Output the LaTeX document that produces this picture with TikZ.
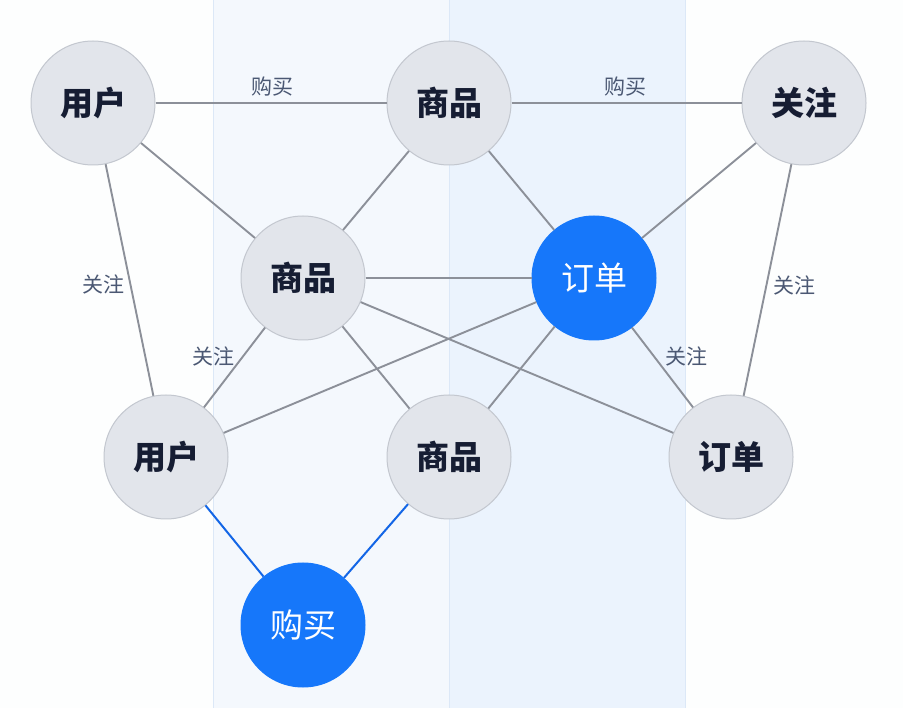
\documentclass[tikz,border=0pt]{standalone}
\usepackage{fontspec}
\setmainfont{Noto Sans CJK SC}
\usetikzlibrary{calc}
\definecolor{bandlight}{HTML}{F4F8FD}
\definecolor{banddeep}{HTML}{EBF3FD}
\definecolor{bandline}{HTML}{DCE8F7}
\definecolor{nodegray}{HTML}{E2E5EB}
\definecolor{nodeline}{HTML}{C3C7CF}
\definecolor{nodeblue}{HTML}{1677FA}
\definecolor{inkdark}{HTML}{161D33}
\definecolor{edgegray}{HTML}{8C9099}
\definecolor{labelgray}{HTML}{4B5873}
\definecolor{edgeblue}{HTML}{1366E6}
\tikzset{
    entity/.style={circle,minimum size=124pt,inner sep=0pt,fill=nodegray,
        draw=nodeline,line width=1pt,text=inkdark,
        font=\fontsize{33}{33}\selectfont\bfseries},
    hub/.style={entity,fill=nodeblue,draw=nodeblue,text=white,
        font=\fontsize{33}{33}\selectfont},
    link/.style={draw=edgegray,line width=1.9pt},
    bluelink/.style={draw=edgeblue,line width=2pt},
    rel/.style={text=labelgray,font=\fontsize{21}{21}\selectfont,inner sep=2pt}
}

\begin{document}
\begin{tikzpicture}[x=1pt,y=-1pt]
    \useasboundingbox (0,0) rectangle (903,708);
    \fill[white!80!bandlight] (0,0) rectangle (903,708);
    \fill[bandlight] (213,0) rectangle (449,708);
    \fill[banddeep] (449,0) rectangle (685,708);
    \foreach \x in {213,449,685} {
        \draw[bandline,line width=1pt] (\x,0) -- (\x,708);
      }

    % nodes
    \node[entity] (user1) at (93,103) {用户};
    \node[entity] (goods1) at (449,103) {商品};
    \node[entity] (follow1) at (804,103) {关注};
    \node[entity] (goods2) at (303,278) {商品};
    \node[hub] (order1) at (594,278) {订单};
    \node[entity] (user2) at (166,457) {用户};
    \node[entity] (goods3) at (449,457) {商品};
    \node[entity] (order2) at (731,457) {订单};
    \node[hub] (buy) at (303,625) {购买};

    % plain links
    \foreach \a/\b in {user1/goods2,goods1/goods2,goods1/order1,
        follow1/order1,goods2/order1,goods2/goods3,goods2/order2,
        order1/user2,order1/goods3} {
        \draw[link] (\a) -- (\b);
      }

    % labelled links
    \draw[link] (user1) -- (goods1);
    \draw[link] (goods1) -- (follow1);
    \draw[link] (user1) -- (user2);
    \draw[link] (follow1) -- (order2);
    \draw[link] (goods2) -- (user2);
    \draw[link] (order1) -- (order2);
    \node[rel] (lbuy1) at (272,87) {购买};
    \node[rel] (lbuy2) at (625,87) {购买};
    \node[rel] (lfollow1) at (103,284) {关注};
    \node[rel] (lfollow2) at (794,285) {关注};
    \node[rel] (lfollow3) at (213,356) {关注};
    \node[rel] (lfollow4) at (686,356) {关注};

    % blue links
    \draw[bluelink] (user2) -- (buy);
    \draw[bluelink] (goods3) -- (buy);
\end{tikzpicture}
\end{document}
